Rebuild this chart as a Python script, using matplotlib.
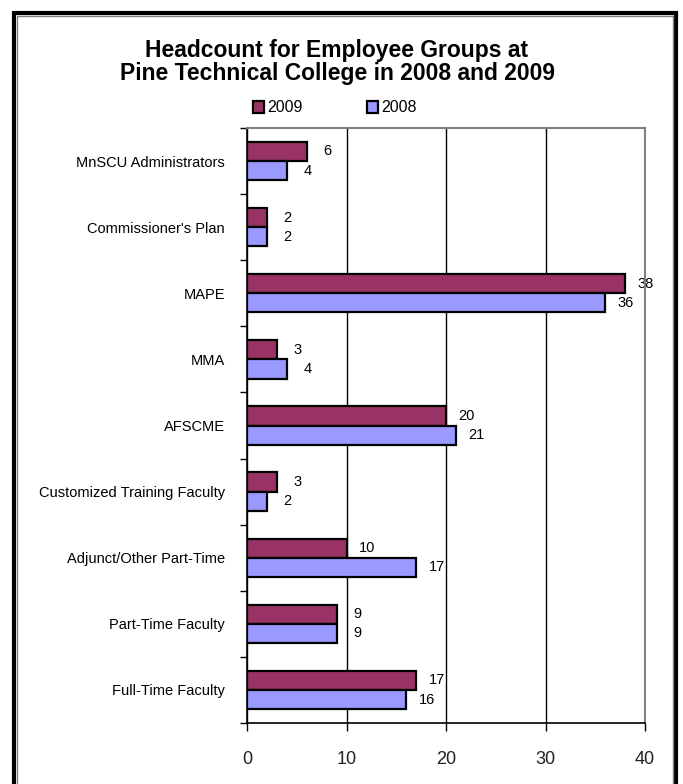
import matplotlib
matplotlib.use("Agg")
import matplotlib.pyplot as plt
import numpy as np
from matplotlib.patches import Rectangle

plt.rcParams['font.family'] = ['Liberation Sans', 'DejaVu Sans']

# data (top to bottom as in the chart)
categories = ["MnSCU Administrators", "Commissioner's Plan", "MAPE", "MMA", "AFSCME",
              "Customized Training Faculty", "Adjunct/Other Part-Time",
              "Part-Time Faculty", "Full-Time Faculty"]
vals_2009 = [6, 2, 38, 3, 20, 3, 10, 9, 17]
vals_2008 = [4, 2, 36, 4, 21, 2, 17, 9, 16]
x_ticks = [0, 10, 20, 30, 40]

c2009 = "#993366"
c2008 = "#9999FF"

fig = plt.figure(figsize=(6.83, 7.84), dpi=100)
ax = fig.add_axes([247 / 683, 1 - 723 / 784, 398 / 683, 595 / 784])

n = len(categories)
y = np.arange(n)[::-1].astype(float)  # first category on top
h = 0.29

b09 = ax.barh(y + h / 2, vals_2009, height=h, color=c2009, edgecolor="black",
              linewidth=1.6, label="2009", zorder=3)
b08 = ax.barh(y - h / 2, vals_2008, height=h, color=c2008, edgecolor="black",
              linewidth=1.6, label="2008", zorder=3)

# value labels
for bars, vals in ((b09, vals_2009), (b08, vals_2008)):
    for bar, v in zip(bars, vals):
        ax.annotate(str(v), (v, bar.get_y() + bar.get_height() / 2),
                    xytext=(15, 0), textcoords="offset points",
                    ha="center", va="center", fontsize=10.5, color="black")

ax.set_xlim(0, 40)
ax.set_ylim(-0.5, n - 0.5)
ax.set_xticks(x_ticks)
ax.set_xticklabels([str(t) for t in x_ticks], fontsize=13, color="#222222")
ax.tick_params(axis="x", direction="out", length=6, width=1, pad=14, colors="black",
               labelcolor="#222222")

ax.set_yticks(y)
ax.set_yticklabels(categories, fontsize=10.5)
ax.tick_params(axis="y", length=0, pad=16)
ax.set_yticks(np.arange(n + 1) - 0.5, minor=True)
ax.tick_params(axis="y", which="minor", direction="out", length=5, width=1)

ax.xaxis.grid(True, color="black", linewidth=1)
ax.set_axisbelow(True)

for side in ("top", "right"):
    ax.spines[side].set_color("#808080")
    ax.spines[side].set_linewidth(1.5)
    ax.spines[side].set_zorder(4)
for side in ("left", "bottom"):
    ax.spines[side].set_color("black")
    ax.spines[side].set_linewidth(1.2)
    ax.spines[side].set_zorder(4)

fig.text(337 / 683, 1 - 62 / 784,
         "Headcount for Employee Groups at\nPine Technical College in 2008 and 2009",
         ha="center", va="center", fontsize=16.5, fontweight="bold", linespacing=1.0)

fig.legend(handles=[b09, b08], labels=["2009", "2008"], loc="center",
           bbox_to_anchor=(335 / 683, 1 - 108 / 784), ncol=2, frameon=False,
           fontsize=11.5, handlelength=0.7, handleheight=0.7, handletextpad=0.2,
           columnspacing=4.0, borderpad=0)

# outer frame
fig.patches.append(Rectangle((13.5 / 683, -0.05), (675.5 - 13.5) / 683, (784 + 40 - 13.5) / 784,
                             transform=fig.transFigure, fill=False, edgecolor="black",
                             linewidth=3, zorder=10))
fig.patches.append(Rectangle((16.5 / 683, -0.05), (672.5 - 16.5) / 683, (784 + 40 - 16.5) / 784,
                             transform=fig.transFigure, fill=False, edgecolor="#808080",
                             linewidth=1, zorder=10))

fig.savefig("out.png", dpi=100)
